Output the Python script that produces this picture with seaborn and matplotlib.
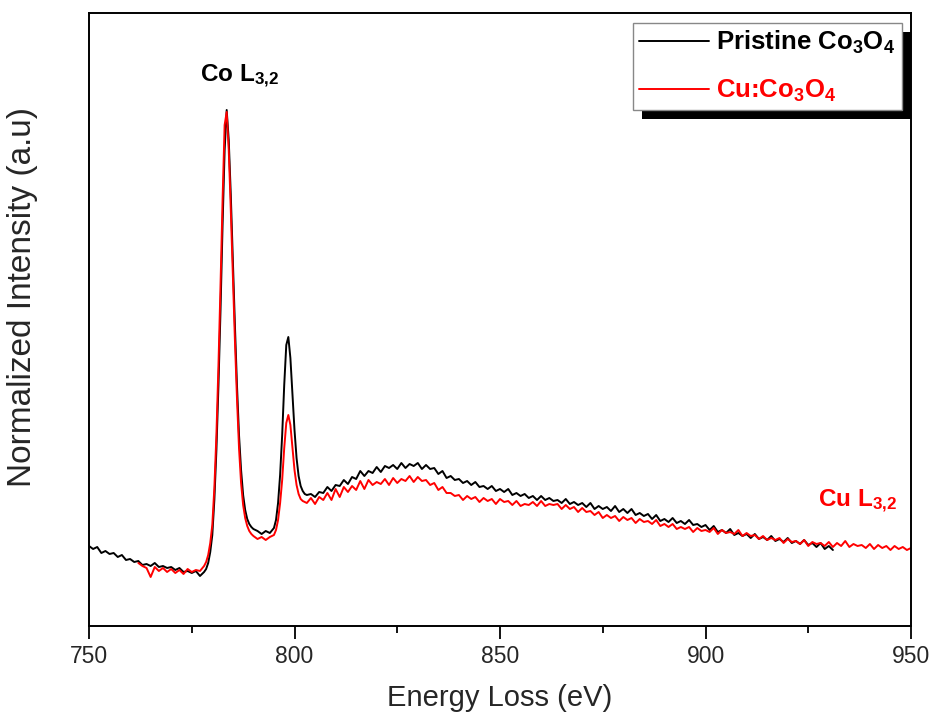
import numpy as np
import pandas as pd
import matplotlib
matplotlib.use("Agg")
import matplotlib.pyplot as plt
from matplotlib.patches import Rectangle
from matplotlib.ticker import MultipleLocator
import seaborn as sns

# ---------------- data (a.u.) ----------------
pristine_energy = [
    750, 751, 752, 753, 754, 755, 756, 757, 758, 759, 760, 761, 762, 763, 764, 765, 766, 767, 768, 769,
    770, 771, 772, 773, 774, 775, 776, 777, 778, 778.5, 779, 779.5, 780, 780.5, 781, 781.5, 782, 782.5,
    783, 783.5, 784, 784.5, 785, 785.5, 786, 786.5, 787, 787.5, 788, 788.5, 789, 789.5, 790, 791, 792,
    793, 794, 795, 795.5, 796, 796.5, 797, 797.5, 798, 798.5, 799, 799.5, 800, 800.5, 801, 801.5, 802,
    802.5, 803, 804, 805, 806, 807, 808, 809, 810, 811, 812, 813, 814, 815, 816, 817, 818, 819, 820,
    821, 822, 823, 824, 825, 826, 827, 828, 829, 830, 831, 832, 833, 834, 835, 836, 837, 838, 839, 840,
    841, 842, 843, 844, 845, 846, 847, 848, 849, 850, 851, 852, 853, 854, 855, 856, 857, 858, 859, 860,
    861, 862, 863, 864, 865, 866, 867, 868, 869, 870, 871, 872, 873, 874, 875, 876, 877, 878, 879, 880,
    881, 882, 883, 884, 885, 886, 887, 888, 889, 890, 891, 892, 893, 894, 895, 896, 897, 898, 899, 900,
    901, 902, 903, 904, 905, 906, 907, 908, 909, 910, 911, 912, 913, 914, 915, 916, 917, 918, 919, 920,
    921, 922, 923, 924, 925, 926, 927, 928, 929, 930, 931,
]
pristine_intensity = [
    80, 77, 79, 73, 75, 72, 73, 69, 71, 66, 67, 64, 65, 61, 62, 60, 63, 59, 60, 58,
    59, 56, 58, 54, 55, 53, 55, 50, 54, 57, 63, 74, 91, 126, 176, 241, 316, 401,
    476, 516, 486, 431, 366, 301, 241, 191, 156, 131, 116, 107, 102, 99, 97, 95, 92,
    95, 93, 98, 106, 123, 151, 191, 241, 281, 289, 268, 231, 196, 168, 150, 140, 135,
    132, 131, 132, 129, 134, 133, 139, 135, 141, 140, 146, 142, 149, 147, 155, 150, 155, 153, 159,
    154, 160, 158, 161, 157, 163, 158, 162, 160, 163, 157, 161, 157, 158, 152, 155, 148, 150, 146, 147,
    143, 145, 141, 144, 139, 140, 137, 140, 135, 137, 134, 137, 131, 133, 130, 132, 128, 130, 126, 130,
    126, 128, 125, 126, 123, 127, 122, 124, 121, 123, 119, 123, 117, 120, 117, 119, 115, 120, 114, 117,
    113, 117, 111, 113, 110, 112, 107, 111, 105, 107, 104, 108, 103, 105, 102, 106, 101, 102, 99, 101,
    96, 100, 94, 96, 93, 97, 91, 93, 90, 92, 88, 92, 87, 89, 86, 90, 85, 87, 84, 88,
    83, 85, 82, 86, 81, 83, 79, 83, 77, 80, 76,
]

cu_energy = [
    762, 763, 764, 765, 766, 767, 768, 769, 770, 771, 772, 773, 774, 775, 776, 777, 778, 778.5, 779,
    779.5, 780, 780.5, 781, 781.5, 782, 782.5, 783, 783.5, 784, 784.5, 785, 785.5, 786, 786.5, 787,
    787.5, 788, 788.5, 789, 789.5, 790, 791, 792, 793, 794, 795, 795.5, 796, 796.5, 797, 797.5, 798,
    798.5, 799, 799.5, 800, 800.5, 801, 801.5, 802, 802.5, 803, 804, 805, 806, 807, 808, 809, 810,
    811, 812, 813, 814, 815, 816, 817, 818, 819, 820, 821, 822, 823, 824, 825, 826, 827, 828, 829,
    830, 831, 832, 833, 834, 835, 836, 837, 838, 839, 840, 841, 842, 843, 844, 845, 846, 847, 848,
    849, 850, 851, 852, 853, 854, 855, 856, 857, 858, 859, 860, 861, 862, 863, 864, 865, 866, 867,
    868, 869, 870, 871, 872, 873, 874, 875, 876, 877, 878, 879, 880, 881, 882, 883, 884, 885, 886,
    887, 888, 889, 890, 891, 892, 893, 894, 895, 896, 897, 898, 899, 900, 901, 902, 903, 904, 905,
    906, 907, 908, 909, 910, 911, 912, 913, 914, 915, 916, 917, 918, 919, 920, 921, 922, 923, 924,
    925, 926, 927, 928, 929, 930, 931, 932, 933, 934, 935, 936, 937, 938, 939, 940, 941, 942, 943,
    944, 945, 946, 947, 948, 949, 950,
]
cu_intensity = [
    63, 60, 58, 49, 59, 55, 58, 54, 57, 53, 56, 52, 57, 54, 56, 55, 60, 64, 71,
    83, 101, 138, 191, 261, 341, 426, 501, 514, 476, 416, 351, 286, 228, 178, 143,
    121, 108, 100, 95, 92, 90, 87, 89, 86, 89, 91, 96, 106, 123, 146, 178, 203,
    211, 201, 178, 156, 141, 132, 127, 125, 124, 123, 128, 122, 129, 126, 133, 126, 137,
    129, 139, 134, 140, 136, 145, 137, 146, 141, 144, 142, 147, 141, 148, 143, 147, 145, 150, 144,
    149, 145, 146, 141, 143, 136, 139, 133, 133, 130, 131, 126, 130, 127, 129, 124, 128, 125, 127,
    122, 127, 124, 125, 121, 125, 120, 122, 121, 124, 120, 125, 120, 122, 121, 122, 117, 121, 117,
    119, 114, 118, 114, 115, 111, 114, 108, 111, 108, 110, 105, 109, 106, 108, 103, 107, 104, 105,
    102, 106, 100, 102, 99, 102, 97, 99, 97, 99, 94, 98, 95, 96, 94, 98, 92, 96, 93,
    94, 92, 96, 90, 93, 90, 91, 87, 90, 86, 88, 86, 88, 83, 87, 84, 85, 82, 86,
    80, 84, 82, 83, 80, 84, 79, 83, 80, 85, 79, 82, 80, 81, 78, 82, 77, 81, 78,
    80, 76, 80, 77, 79, 76, 78,
]

series_labels = [r"Pristine Co$_{3}$O$_{4}$", r"Cu:Co$_{3}$O$_{4}$"]
series_colors = ["#000000", "#ff0000"]
x_ticks = [750, 800, 850, 900, 950]
x_label = "Energy Loss (eV)"
y_label = "Normalized Intensity (a.u)"
peak_labels = [r"Co L$_{3{,}2}$", r"Cu L$_{3{,}2}$"]

# ---------------- style ----------------
sns.set_style("white")
plt.rcParams["font.family"] = ["Liberation Sans", "DejaVu Sans"]
plt.rcParams["mathtext.default"] = "regular"

df = pd.concat([
    pd.DataFrame({"energy": pristine_energy, "intensity": pristine_intensity, "sample": series_labels[0]}),
    pd.DataFrame({"energy": cu_energy, "intensity": cu_intensity, "sample": series_labels[1]}),
], ignore_index=True)

W, H = 931, 720
fig = plt.figure(figsize=(W / 100, H / 100), dpi=100)
fig.patch.set_facecolor("white")
ax = fig.add_axes([89 / W, 1 - 626 / H, 822 / W, 613 / H])

sns.lineplot(data=df, x="energy", y="intensity", hue="sample",
             palette=dict(zip(series_labels, series_colors)),
             hue_order=series_labels, linewidth=1.4, sort=False,
             estimator=None, ax=ax)

ax.set_xlim(750, 950)
ax.set_ylim(0, 613)
ax.set_xticks(x_ticks)
ax.xaxis.set_minor_locator(MultipleLocator(25))
ax.set_yticks([])
ax.tick_params(axis="x", which="major", direction="out", length=9, width=1.3,
               labelsize=16.5, pad=5, color="black", bottom=True)
ax.tick_params(axis="x", which="minor", direction="out", length=5, width=1.3,
               color="black", bottom=True)
for s in ax.spines.values():
    s.set_visible(True)
    s.set_color("black")
    s.set_linewidth(1.4)

ax.set_xlabel(x_label, fontsize=21, labelpad=11)
ax.set_ylabel(y_label, fontsize=24)
ax.yaxis.set_label_coords(-0.062, 0.537)

ax.text(777.0, 544, peak_labels[0], fontsize=17.5, fontweight="bold",
        color="black", ha="left", va="baseline")
ax.text(927.3, 119, peak_labels[1], fontsize=17.5, fontweight="bold",
        color="red", ha="left", va="baseline")

leg = ax.legend(loc="upper right", bbox_to_anchor=(0.989, 0.984),
                borderaxespad=0, frameon=True, fancybox=False,
                prop={"weight": "bold", "size": 18.5},
                labelcolor=series_colors, handlelength=2.7,
                handletextpad=0.3, borderpad=0.25, labelspacing=0.82)
leg.get_frame().set_edgecolor("#888888")
leg.get_frame().set_linewidth(1.0)
leg.get_frame().set_alpha(1)
for h in leg.get_lines():
    h.set_linewidth(1.4)

fig.canvas.draw()
bb = leg.get_window_extent()
shadow = Rectangle(((bb.x0 + 9) / W, (bb.y0 - 9) / H), bb.width / W, bb.height / H,
                   transform=fig.transFigure, facecolor="black", edgecolor="none",
                   zorder=4.9, clip_on=False)
ax.add_artist(shadow)
leg.set_zorder(5)

fig.savefig("out.png", dpi=100, facecolor="white")
